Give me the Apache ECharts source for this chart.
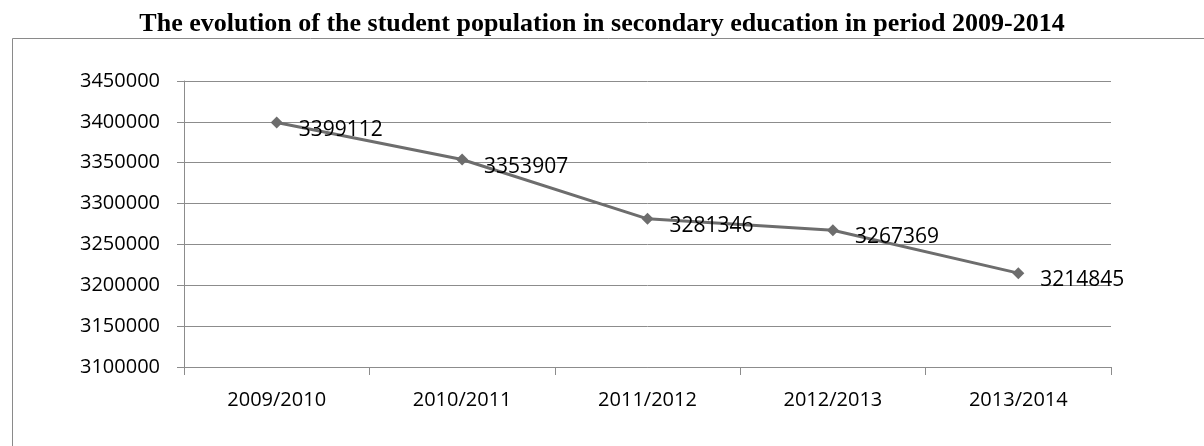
<!DOCTYPE html>
<html><head><meta charset="utf-8">
<script src="https://cdn.jsdelivr.net/npm/echarts@6/dist/echarts.min.js"></script>
<style>html,body{margin:0;padding:0;background:#fff;}#c{width:1204px;height:446px;}</style>
</head><body><div id="c"></div>
<script>
const titleText = 'The evolution of the student population in secondary education in period 2009-2014';
const categories = ['2009/2010', '2010/2011', '2011/2012', '2012/2013', '2013/2014'];
const students = [3399112, 3353907, 3281346, 3267369, 3214845];
const yMin = 3100000, yMax = 3450000, yStep = 50000;

const chart = echarts.init(document.getElementById('c'), null, {renderer: 'canvas'});
const lblFont = {fontFamily: 'Open Sans', fontSize: 20, color: '#000'};
chart.setOption({
  animation: false,
  backgroundColor: '#fff',
  title: {
    text: titleText, left: 'center', top: 6,
    textStyle: {fontFamily: 'Liberation Serif', fontWeight: 'bold', fontSize: 26, color: '#000'}
  },
  graphic: [{
    type: 'rect', left: 10, top: 36, silent: true,
    shape: {width: 1210, height: 430},
    style: {fill: 'none', stroke: '#8a8a8a', lineWidth: 1}
  }],
  grid: {left: 184, right: 93, top: 81, bottom: 79},
  xAxis: {
    type: 'category', data: categories, boundaryGap: true,
    axisLine: {lineStyle: {color: '#8c8c8c', width: 1}},
    axisTick: {show: true, length: 8, lineStyle: {color: '#8c8c8c'}},
    axisLabel: Object.assign({margin: 23}, lblFont)
  },
  yAxis: {
    type: 'value', min: yMin, max: yMax, interval: yStep,
    axisLine: {show: true, lineStyle: {color: '#8c8c8c', width: 1}},
    axisTick: {show: true, length: 7, lineStyle: {color: '#8c8c8c'}},
    splitLine: {lineStyle: {color: '#8c8c8c', width: 1}},
    axisLabel: Object.assign({margin: 24, formatter: v => String(v)}, lblFont)
  },
  series: [{
    type: 'line', data: students,
    symbol: 'diamond', symbolSize: 12,
    lineStyle: {color: '#6d6d6d', width: 3},
    itemStyle: {color: '#6d6d6d'},
    label: {
      show: true, position: 'right', distance: 16, offset: [0, 7],
      fontFamily: 'Open Sans', fontSize: 21, color: '#000'
    }
  }]
});
</script></body></html>
